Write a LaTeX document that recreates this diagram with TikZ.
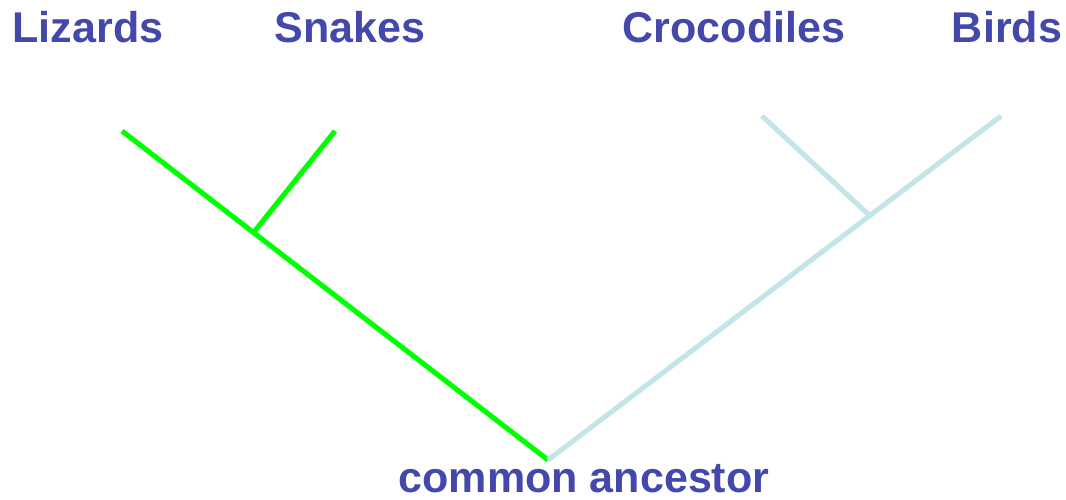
\documentclass[tikz,border=0pt]{standalone}
\usepackage{fontspec}
\setmainfont{Liberation Sans}
\usepackage{tikz}
\usetikzlibrary{positioning}

\definecolor{taxonblue}{HTML}{4448AA}
\definecolor{lizardgreen}{HTML}{00FF00}
\definecolor{birdcyan}{HTML}{C2E6E8}

\begin{document}
\begin{tikzpicture}[
    taxon/.style={anchor=base, text=taxonblue, font=\fontsize{24.5}{29}\selectfont\bfseries, inner sep=0pt},
    branch/.style={line width=2.9pt}
]
\useasboundingbox (0,0) rectangle (21.32,10);
% labels
\node[taxon] (lizards) at (1.76,9.14) {Lizards};
\node[taxon] (snakes) at (7.00,9.14) {Snakes};
\node[taxon] (crocs) at (14.68,9.14) {Crocodiles};
\node[taxon] (birds) at (20.14,9.14) {Birds};
\node[taxon] (ancestor) at (11.68,0.14) {common ancestor};
% tips and splits
\coordinate (root) at (10.96,0.80);
\coordinate (lizardtip) at (2.44,7.38);
\coordinate (snaketip) at (6.70,7.38);
\coordinate (squamata) at (5.08,5.36);
\coordinate (birdtip) at (20.02,7.68);
\coordinate (croctip) at (15.24,7.68);
\coordinate (archosaur) at (17.36,5.72);
% tree
\draw[branch, lizardgreen] (lizardtip) -- (root);
\draw[branch, lizardgreen] (squamata) -- (snaketip);
\draw[branch, birdcyan] (root) -- (birdtip);
\draw[branch, birdcyan] (archosaur) -- (croctip);
\end{tikzpicture}
\end{document}
